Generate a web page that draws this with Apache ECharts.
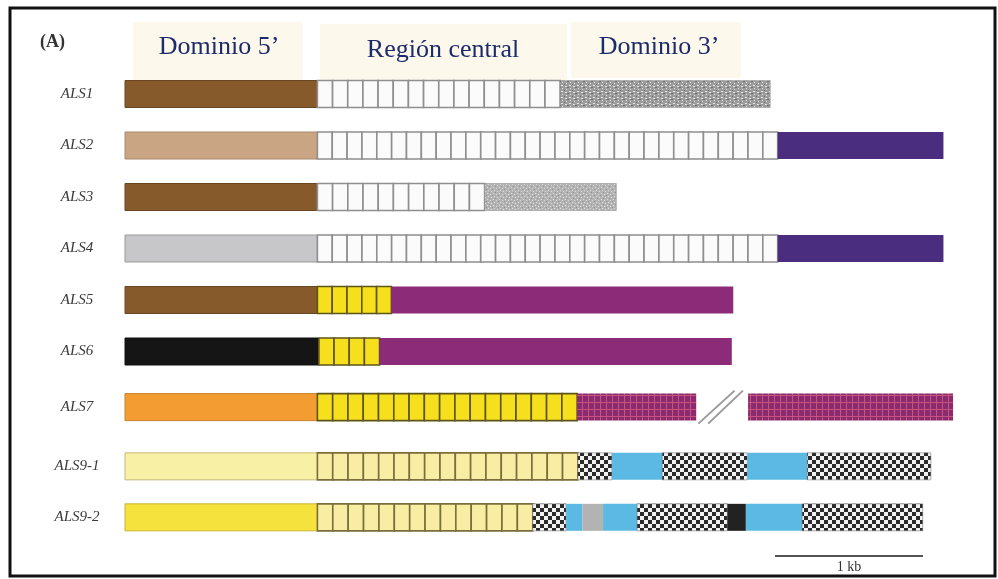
<!DOCTYPE html>
<html>
<head>
<meta charset="utf-8">
<script src="https://cdn.jsdelivr.net/npm/echarts@6/dist/echarts.min.js"></script>
<style>
  html, body { margin: 0; padding: 0; background: #ffffff; }
  #chart { width: 998px; height: 579px; }
</style>
</head>
<body>
<div id="chart"></div>
<script>
// ALS gene family: 5' domain, central tandem-repeat region and 3' domain (positions in bp)
const genes = ['ALS1', 'ALS2', 'ALS3', 'ALS4', 'ALS5', 'ALS6', 'ALS7', 'ALS9-1', 'ALS9-2'];
const domain5End = [1300, 1300, 1300, 1300, 1300, 1310, 1300, 1300, 1300];
const centralEnd = [2940, 4410, 2430, 4410, 1800, 1720, 3055, 3060, 2755];
const repeatCount = [16, 31, 11, 31, 5, 4, 17, 17, 14];
// 3' domain pieces: [end position (bp), kind]
const domain3 = [
  [[4360, 'stippleDark']],
  [[5530, 'violet']],
  [[3320, 'stippleLight']],
  [[5530, 'violet']],
  [[4110, 'magenta']],
  [[4100, 'magenta']],
  [[3860, 'grid'], [4210, 'gap'], [5595, 'grid']],
  [[3290, 'checker'], [3630, 'blue'], [4205, 'checker'], [4610, 'blue'], [5445, 'checker']],
  [[2980, 'checker'], [3090, 'blue'], [3230, 'grey'], [3460, 'blue'], [4070, 'checker'], [4195, 'black'], [4575, 'blue'], [5390, 'checker']]
];
const headers = ['Dominio 5\u2019', 'Regi\u00f3n central', 'Dominio 3\u2019'];
const scaleBar = [4392, 5392];
const scaleLabel = '1 kb';

// Layout: vertical slot of each row (ALS8 absent, so the last rows sit lower)
const rowSlot = [0, 1, 2, 3, 4, 5, 6.08, 7.23, 8.22];
const BAR_H = 27;

const fiveColors = ['#875a2b', '#caa584', '#865a2a', '#c7c6c8', '#875a2c', '#151515', '#f29c32', '#f8f0a4', '#f6e23c'];
const fiveStroke = ['#6b4520', '#a88a6e', '#6b4520', '#9a9a9a', '#6b4520', '#111111', '#c88228', '#c4b878', '#c8b530'];
const repeatStyle = ['white', 'white', 'white', 'white', 'yellow', 'yellow', 'yellow', 'pale', 'pale'];
const repeatFill = { white: '#fbfbfb', yellow: '#f6e01e', pale: '#f8eda2' };
const repeatLine = { white: '#8f8f8f', yellow: '#5e5418', pale: '#7a6f3c' };

function makePattern(w, h, draw) {
  const c = document.createElement('canvas');
  c.width = w; c.height = h;
  draw(c.getContext('2d'));
  return { image: c, repeat: 'repeat' };
}
const patterns = {
  stippleDark: makePattern(8, 6, g => {
    g.fillStyle = '#9c9c9c'; g.fillRect(0, 0, 8, 6);
    g.fillStyle = '#e2e2e2';
    g.fillRect(1, 1, 2, 1); g.fillRect(5, 2, 2, 1); g.fillRect(2, 4, 1, 1); g.fillRect(6, 5, 1, 1);
    g.fillStyle = '#6e6e6e';
    g.fillRect(4, 0, 1, 1); g.fillRect(0, 3, 1, 1); g.fillRect(7, 3, 1, 1);
  }),
  stippleLight: makePattern(6, 6, g => {
    g.fillStyle = '#b3b3b3'; g.fillRect(0, 0, 6, 6);
    g.fillStyle = '#dcdcdc';
    g.fillRect(1, 1, 1, 1); g.fillRect(4, 2, 1, 1); g.fillRect(2, 4, 1, 1); g.fillRect(5, 5, 1, 1);
    g.fillStyle = '#909090';
    g.fillRect(3, 0, 1, 1); g.fillRect(0, 3, 1, 1);
  }),
  grid: makePattern(6, 7, g => {
    g.fillStyle = '#8a2b6f'; g.fillRect(0, 0, 6, 7);
    g.fillStyle = '#c8527c';
    g.fillRect(0, 0, 1, 7); g.fillRect(0, 3, 6, 1);
  }),
  checker: makePattern(8, 8, g => {
    g.fillStyle = '#f2f2f2'; g.fillRect(0, 0, 8, 8);
    g.fillStyle = '#2b2b2b';
    g.fillRect(0, 0, 4, 4); g.fillRect(4, 4, 4, 4);
  })
};
const flatColors = { violet: '#4a2d7e', magenta: '#8c2c79', blue: '#5bb9e4', grey: '#b3b3b3', black: '#222222' };

function renderGene(params, api) {
  const i = api.value(0);
  const yc = api.coord([0, rowSlot[i]])[1];
  const top = yc - BAR_H / 2;
  const px = v => api.coord([v, rowSlot[i]])[0];
  const children = [];

  // row label
  children.push({
    type: 'text',
    style: {
      text: genes[i], x: 77, y: yc, align: 'center', verticalAlign: 'middle',
      font: 'italic 15px "Liberation Serif", serif', fill: '#3a3a3a'
    }
  });

  // 5' domain
  const x0 = px(0), x5 = px(domain5End[i]);
  children.push({
    type: 'rect', shape: { x: x0, y: top, width: x5 - x0, height: BAR_H },
    style: { fill: fiveColors[i], stroke: fiveStroke[i], lineWidth: 1 }
  });

  // central tandem repeats
  const xc = px(centralEnd[i]);
  const n = repeatCount[i];
  const cw = (xc - x5) / n;
  const rs = repeatStyle[i];
  for (let k = 0; k < n; k++) {
    children.push({
      type: 'rect', shape: { x: x5 + k * cw, y: top, width: cw, height: BAR_H },
      style: { fill: repeatFill[rs], stroke: repeatLine[rs], lineWidth: 1.6 }
    });
  }

  // 3' domain pieces
  let start = centralEnd[i];
  domain3[i].forEach(([end, kind]) => {
    const a = px(start), b = px(end);
    if (kind === 'gap') {
      const w = b - a;
      [[0.04, 0.74], [0.23, 0.9]].forEach(([f0, f1]) => {
        children.push({
          type: 'line',
          shape: { x1: a + f0 * w, y1: top + BAR_H + 3, x2: a + f1 * w, y2: top - 3 },
          style: { stroke: '#9a9a9a', lineWidth: 2 }
        });
      });
    } else {
      const fill = patterns[kind] || flatColors[kind];
      children.push({
        type: 'rect', shape: { x: a, y: top, width: b - a, height: BAR_H },
        style: { fill: fill, stroke: kind === 'checker' ? '#666' : (kind.startsWith('stipple') ? '#8a8a8a' : null), lineWidth: 0.5 }
      });
    }
    start = end;
  });

  return { type: 'group', children: children };
}

function renderScale(params, api) {
  const a = api.coord([api.value(0), api.value(2)]);
  const b = api.coord([api.value(1), api.value(2)]);
  return {
    type: 'group',
    children: [
      { type: 'line', shape: { x1: a[0], y1: a[1], x2: b[0], y2: b[1] }, style: { stroke: '#555', lineWidth: 2 } },
      { type: 'text', style: { text: scaleLabel, x: (a[0] + b[0]) / 2, y: a[1] + 4, align: 'center', verticalAlign: 'top',
        font: '14px "Liberation Serif", serif', fill: '#333' } }
    ]
  };
}

const chart = echarts.init(document.getElementById('chart'), null, { renderer: 'canvas' });

const headerBoxes = [
  { x: 133, w: 170, y: 22, h: 58, cx: 219, cy: 47 },
  { x: 320, w: 247, y: 24, h: 56, cx: 443, cy: 50 },
  { x: 571, w: 170, y: 22, h: 56, cx: 659, cy: 47 }
];

const graphics = [
  { type: 'rect', shape: { x: 10, y: 8, width: 985, height: 568 }, style: { fill: '#ffffff', stroke: '#111111', lineWidth: 3 }, z: -10 },
  { type: 'text', style: { text: '(A)', x: 40, y: 42, verticalAlign: 'middle', font: 'bold 18px "Liberation Serif", serif', fill: '#333333' } }
];
headerBoxes.forEach((b, k) => {
  graphics.push({ type: 'rect', shape: { x: b.x, y: b.y, width: b.w, height: b.h }, style: { fill: '#fdf8ec' }, z: -5 });
  graphics.push({ type: 'text', style: { text: headers[k], x: b.cx, y: b.cy, align: 'center', verticalAlign: 'middle',
    font: '26px "Liberation Serif", serif', fill: '#1c2b6b' } });
});

chart.setOption({
  animation: false,
  backgroundColor: '#ffffff',
  graphic: graphics,
  grid: { left: 125, top: 68.25, width: 828.8, height: 489.25 },
  xAxis: { type: 'value', min: 0, max: 5600, show: false },
  yAxis: { type: 'value', min: -0.5, max: 9, inverse: true, show: false },
  series: [
    {
      type: 'custom',
      renderItem: renderGene,
      data: genes.map((g, i) => [i]),
      encode: { x: [], y: [] },
      clip: false
    },
    {
      type: 'custom',
      renderItem: renderScale,
      data: [[scaleBar[0], scaleBar[1], rowSlot[8] + 0.75]],
      encode: { x: [0, 1], y: 2 },
      clip: false
    }
  ]
});
</script>
</body>
</html>
